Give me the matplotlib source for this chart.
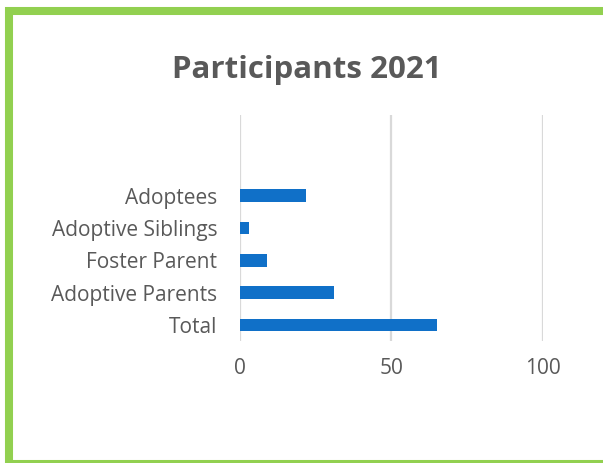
import matplotlib.pyplot as plt
from matplotlib.patches import Rectangle

categories = ['Total', 'Adoptive Parents', 'Foster Parent', 'Adoptive Siblings', 'Adoptees']
values = [65, 31, 9, 3, 22]
ticks = [0, 50, 100]

plt.rcParams['font.family'] = ['Open Sans', 'DejaVu Sans']
grey = '#595959'

fig = plt.figure(figsize=(6.03, 4.63), dpi=100)
ax = fig.add_axes([0.3975, 0.2635, 0.5025, 0.488])

ax.barh(range(len(categories)), values, height=0.39, color='#1070C8', zorder=3)
ax.set_xlim(0, 100)
ax.set_ylim(-0.5, 6.5)
ax.set_xticks(ticks)
ax.set_yticks(range(len(categories)))
ax.set_yticklabels(categories)
ax.grid(axis='x', color='#D9D9D9', linewidth=1.6, zorder=0)
for s in ax.spines.values():
    s.set_visible(False)
ax.tick_params(length=0, labelsize=15, colors=grey)
ax.tick_params(axis='y', pad=16)
ax.tick_params(axis='x', pad=12)

fig.text(0.509, 0.849, 'Participants 2021', ha='center', va='center',
         fontsize=22.5, fontweight='bold', color=grey)

# green frame around the chart
fig.patches.append(Rectangle((9 / 603, -1 / 463), 596 / 603, 453 / 463, transform=fig.transFigure,
                             fill=False, edgecolor='#92D050', linewidth=5.8))

fig.savefig('out.png', dpi=100)
